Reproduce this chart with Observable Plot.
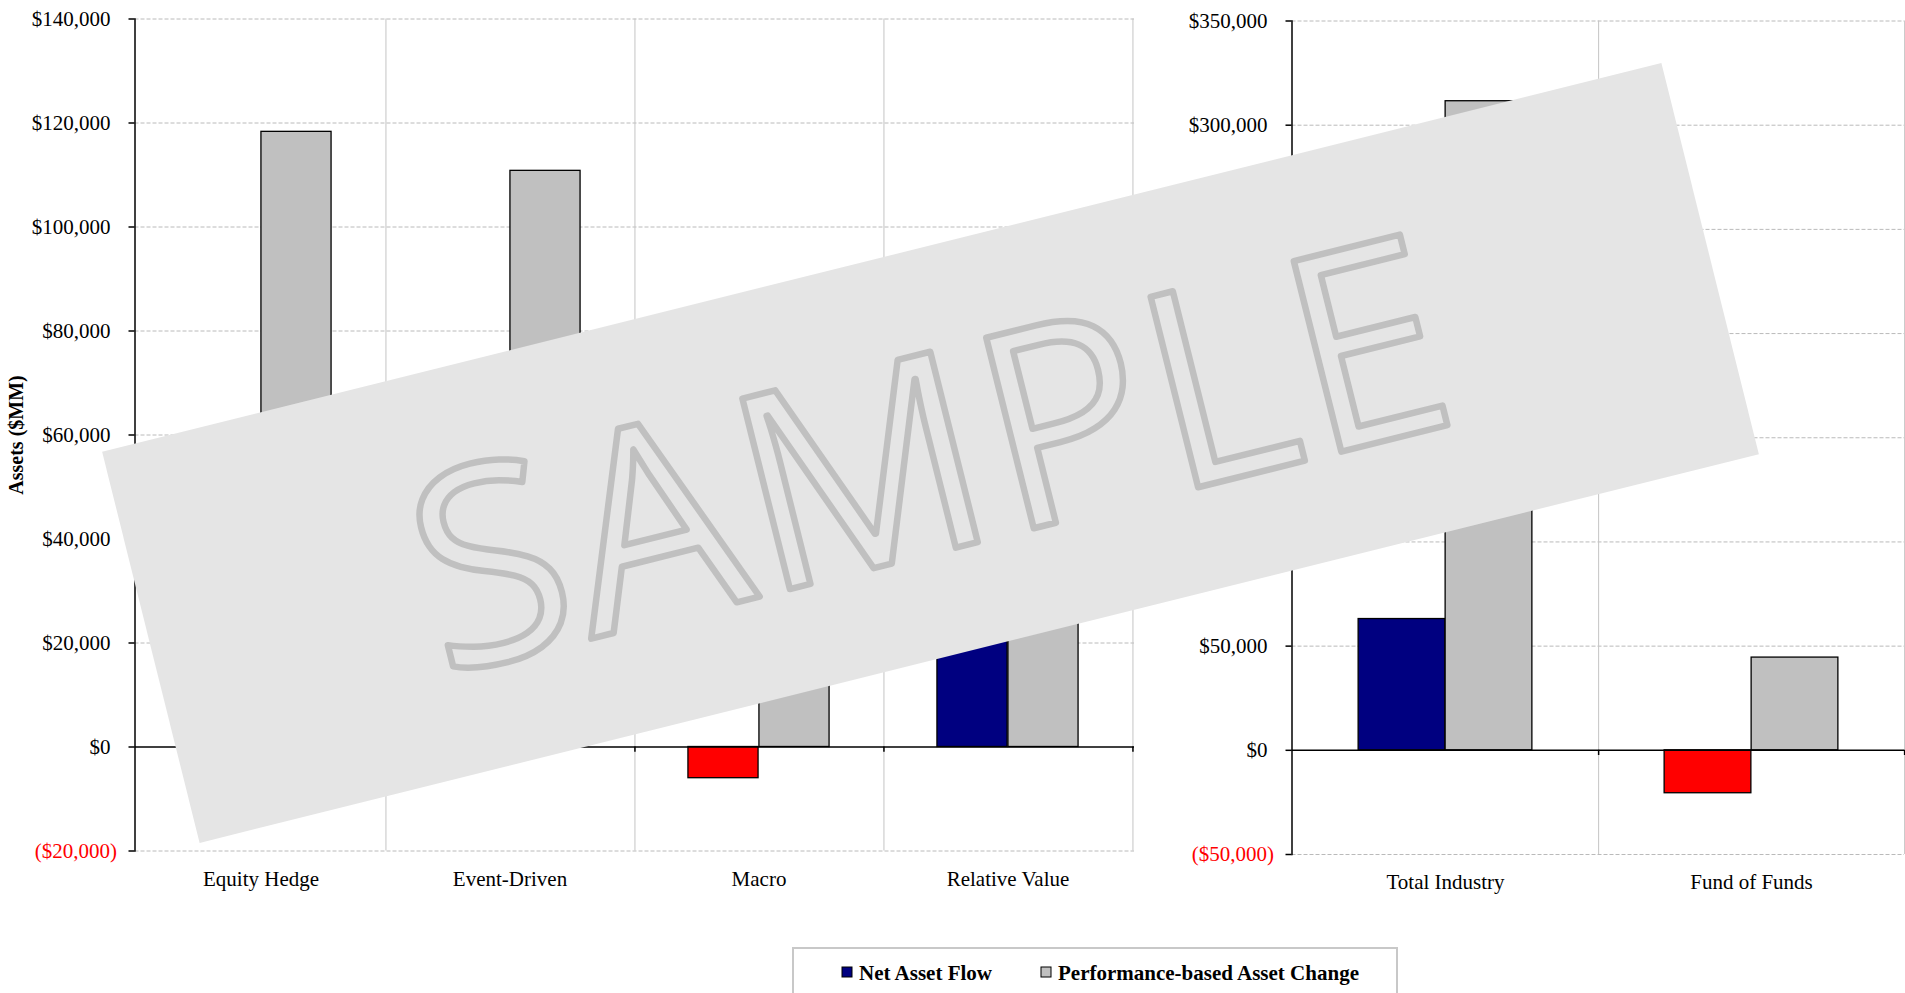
<!DOCTYPE html>
<html>
<head>
<meta charset="utf-8">
<script src="https://cdn.jsdelivr.net/npm/d3@7"></script>
<script src="https://cdn.jsdelivr.net/npm/@observablehq/plot@0.6"></script>
<style>
  html, body { margin: 0; padding: 0; background: #fff; }
  #page { position: relative; width: 1905px; height: 993px; overflow: hidden; background: #fff; }
  #left, #right { position: absolute; top: 0; }
  #left { left: 0; }
  #right { left: 1150px; }
  #legend { position: absolute; left: 792px; top: 947px; }
  #watermark { position: absolute; left: 0; top: 0; pointer-events: none; }
</style>
</head>
<body>
<div id="page">
  <div id="left"></div>
  <div id="right"></div>
  <svg id="legend" width="606" height="60"></svg>
  <svg id="watermark" width="1905" height="993">
    <g transform="translate(930.5,453) rotate(-14)">
      <rect x="-803.5" y="-201.5" width="1607" height="403" fill="#e5e5e5"></rect>
      <text x="0" y="98" text-anchor="middle" font-family="Open Sans" font-size="275" letter-spacing="4"
            fill="none" stroke="#c0c0c0" stroke-width="6.5" stroke-linejoin="round">SAMPLE</text>
    </g>
  </svg>
</div>
<script>
// Asset change by strategy ($MM)
const strategies = ["Equity Hedge", "Event-Driven", "Macro", "Relative Value"];
const strategyNetFlow = [19800, 22600, -6000, 27200];
const strategyPerformance = [118300, 110800, 20000, 62400];
const strategyTicks = [-20000, 0, 20000, 40000, 60000, 80000, 100000, 120000, 140000];

// Industry-level totals ($MM)
const aggregates = ["Total Industry", "Fund of Funds"];
const aggregateNetFlow = [63000, -20600];
const aggregatePerformance = [311500, 44500];
const aggregateTicks = [-50000, 0, 50000, 100000, 150000, 200000, 250000, 300000, 350000];

const seriesNames = ["Net Asset Flow", "Performance-based Asset Change"];
const seriesColors = ["#000080", "#c0c0c0"];
const outflowColor = "#ff0000";

const serif = '"Liberation Serif", "Times New Roman", serif';
const thousands = d3.format(",");
const money = d => d < 0 ? `($${thousands(-d)})` : `$${thousands(d)}`;

function groupChart({categories, net, perf, ticks, width, height, marginLeft, marginRight,
                     marginTop, marginBottom, barWidth, labelPad, yTitle}) {
  const rows = categories.map((c, i) => ({category: c, net: net[i], perf: perf[i]}));
  const step = ticks[1] - ticks[0];
  const half = (width - marginLeft - marginRight) / categories.length / 2;
  return Plot.plot({
    width, height, marginLeft, marginRight, marginTop, marginBottom,
    style: {fontFamily: serif, fontSize: "21px", background: "transparent", color: "black", overflow: "visible"},
    x: {type: "band", domain: categories, padding: 0},
    y: {domain: [ticks[0], ticks[ticks.length - 1]]},
    marks: [
      // dashed value grid
      Plot.ruleY(ticks.filter(t => t !== 0), {stroke: "#bababa", strokeDasharray: "4,2"}),
      // category dividers on the right edge of each band
      Plot.ruleX(categories, {x: d => d, dx: half, stroke: "#c4c4c4"}),
      // net flows (red when negative) and performance-based change
      Plot.barY(rows, {x: "category", y: "net",
        fill: d => d.net < 0 ? outflowColor : seriesColors[0],
        stroke: "black", strokeWidth: 1.3, insetLeft: half - barWidth, insetRight: half}),
      Plot.barY(rows, {x: "category", y: "perf", fill: seriesColors[1],
        stroke: "black", strokeWidth: 1.3, insetLeft: half, insetRight: half - barWidth}),
      // zero baseline with small ticks at the dividers
      Plot.ruleY([0], {stroke: "black", strokeWidth: 1.5}),
      Plot.ruleX(categories, {x: d => d, dx: half, y1: 0, y2: -step * 0.05, stroke: "black", strokeWidth: 1.5}),
      Plot.frame({anchor: "left", stroke: "black", strokeWidth: 1.5}),
      Plot.axisY({ticks: ticks.filter(t => t >= 0), tickSize: 6, tickPadding: 18.5, tickFormat: money,
        stroke: "black", strokeWidth: 1.5, fill: "black", fontSize: 21, label: null}),
      Plot.axisY({ticks: ticks.filter(t => t < 0), tickSize: 6, tickPadding: 12, tickFormat: money,
        stroke: "black", strokeWidth: 1.5, fill: outflowColor, fontSize: 21, label: null}),
      Plot.axisX({tickSize: 0, tickPadding: labelPad, fontSize: 21, label: null}),
      yTitle ? Plot.text([yTitle], {frameAnchor: "left", textAnchor: "middle", dx: -118, rotate: -90,
        fontWeight: "bold", fontSize: 20, fill: "black"}) : null
    ]
  });
}

document.getElementById("left").append(groupChart({
  categories: strategies, net: strategyNetFlow, perf: strategyPerformance, ticks: strategyTicks,
  width: 1140, height: 905, marginLeft: 134.5, marginRight: 6, marginTop: 18.5, marginBottom: 54.5,
  barWidth: 71, labelPad: 20.5, yTitle: "Assets ($MM)"
}));

document.getElementById("right").append(groupChart({
  categories: aggregates, net: aggregateNetFlow, perf: aggregatePerformance, ticks: aggregateTicks,
  width: 755, height: 905, marginLeft: 141.5, marginRight: 1, marginTop: 20.5, marginBottom: 51,
  barWidth: 87, labelPad: 19.5, yTitle: null
}));

// Legend box below the charts
const legend = d3.select("#legend");
legend.append("rect").attr("x", 1).attr("y", 1).attr("width", 604).attr("height", 80)
  .attr("fill", "white").attr("stroke", "#c8c8c8").attr("stroke-width", 2);
const legendX = [50, 249];
seriesNames.forEach((name, i) => {
  legend.append("rect").attr("x", legendX[i]).attr("y", 20).attr("width", 10).attr("height", 10)
    .attr("fill", seriesColors[i]).attr("stroke", "black").attr("stroke-width", 1);
  legend.append("text").attr("x", legendX[i] + 17).attr("y", 33)
    .attr("font-family", serif).attr("font-size", 21).attr("font-weight", "bold")
    .attr("fill", "black").text(name);
});
</script>
</body>
</html>
